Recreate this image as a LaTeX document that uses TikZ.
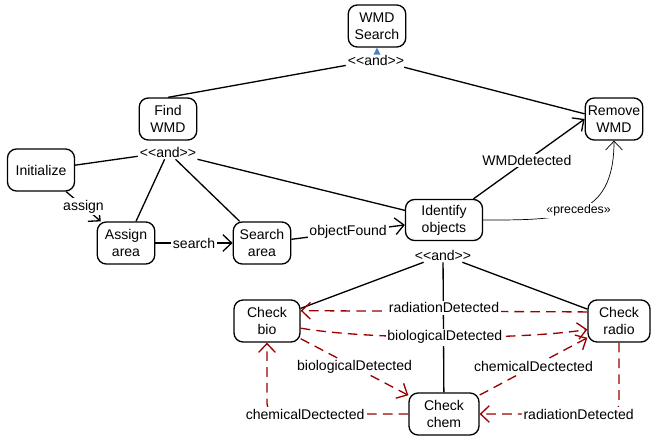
\documentclass[tikz,border=0pt]{standalone}
\usepackage{fontspec}
\setmainfont{Liberation Sans}
\usetikzlibrary{arrows.meta,positioning}
\definecolor{Ink}{HTML}{000000}
\definecolor{DashRed}{HTML}{990000}
\definecolor{Marker}{HTML}{4F81BD}
% keep << and >> apart so they are not turned into guillemets
\newcommand{\andtext}{<\kern0pt<and>\kern0pt>}

\begin{document}
\begin{tikzpicture}[x=0.02cm,y=-0.02cm,
  font=\fontsize{8}{9.6}\selectfont,
  activity/.style={draw=Ink,line width=0.75pt,rounded corners=0.18cm,align=center,
    minimum width=1.15cm,minimum height=0.84cm,inner xsep=0.05cm,inner ysep=0.03cm},
  andlabel/.style={inner sep=1pt},
  part/.style={Ink,line width=0.75pt},
  flow/.style={Ink,line width=0.75pt,-{Straight Barb[length=5pt,width=9.5pt]}},
  signal/.style={flow,DashRed,dash pattern=on 5.5pt off 3.5pt},
  lbl/.style={fill=white,inner sep=1pt,text=black}]
  \useasboundingbox (0,0) rectangle (652,436);

  % activities
  \node[activity] (wmdsearch) at (377,26) {WMD\\Search};
  \node[activity] (findwmd) at (168,119) {Find\\WMD};
  \node[activity] (removewmd) at (614,119) {Remove\\WMD};
  \node[activity,minimum width=1.34cm] (init) at (41,170) {Initialize};
  \node[activity] (assignarea) at (126,243) {Assign\\area};
  \node[activity] (searcharea) at (262,243) {Search\\area};
  \node[activity,minimum width=1.54cm,minimum height=0.82cm] (identify) at (444,220) {Identify\\objects};
  \node[activity,minimum width=1.32cm] (checkbio) at (267,321) {Check\\bio};
  \node[activity,minimum width=1.24cm] (checkradio) at (619,321) {Check\\radio};
  \node[activity,minimum width=1.4cm] (checkchem) at (444,414) {Check\\chem};

  % decomposition labels
  \node[andlabel] (andtop) at (376,60) {\andtext};
  \node[andlabel] (andfind) at (168,152) {\andtext};
  \node[andlabel] (andident) at (443,255) {\andtext};
  \fill[Marker] (wmdsearch.south) -- ++(3.5,7) -- ++(-7,0) -- cycle;

  % and-parts
  \draw[part] (andtop) -- (findwmd.north);
  \draw[part] (andtop) -- (removewmd.170);
  \draw[part] (andfind) -- (init);
  \draw[part] (andfind) -- (assignarea);
  \draw[part] (andfind) -- (searcharea);
  \draw[part] (andfind) -- (identify);
  \draw[part] (andident) -- (checkbio);
  \draw[part] (andident) -- (checkchem);
  \draw[part] (andident) -- (checkradio);

  % flows
  \draw[flow] (init) -- node[lbl]{assign} (assignarea);
  \draw[flow] (assignarea) -- node[lbl]{search} (searcharea);
  \draw[flow] (searcharea) -- node[lbl]{objectFound} (identify);
  \draw[flow] (identify) -- node[lbl,pos=0.48]{WMDdetected} (removewmd.west);
  \draw[flow,line width=0.4pt] (identify.east) .. controls +(80,0) and +(0,80) ..
    node[lbl,font=\fontsize{7}{8}\selectfont]{«precedes»} (removewmd.south);

  % signals between checks
  \draw[signal] (checkradio.164) -- node[lbl,yshift=2pt]{radiationDetected} (checkbio.17);
  \draw[signal] (checkbio.-12) .. controls (370,340) and (520,340) ..
    node[lbl]{biologicalDetected} (checkradio.195);
  \draw[signal] (checkbio) -- node[lbl]{biologicalDetected} (checkchem);
  \draw[signal] (checkchem) -- node[lbl]{chemicalDectected} (checkradio);
  \coordinate (biocorner) at (checkbio.south |- checkchem.west);
  \draw[signal,rounded corners=6pt] (checkchem.west) -- node[lbl,pos=0.73]{chemicalDectected} (biocorner) -- (checkbio.south);
  \coordinate (radiocorner) at (checkradio.south |- checkchem.east);
  \draw[signal,rounded corners=6pt] (checkradio.south) -- (radiocorner) -- node[lbl,pos=0.29]{radiationDetected} (checkchem.east);
\end{tikzpicture}
\end{document}
